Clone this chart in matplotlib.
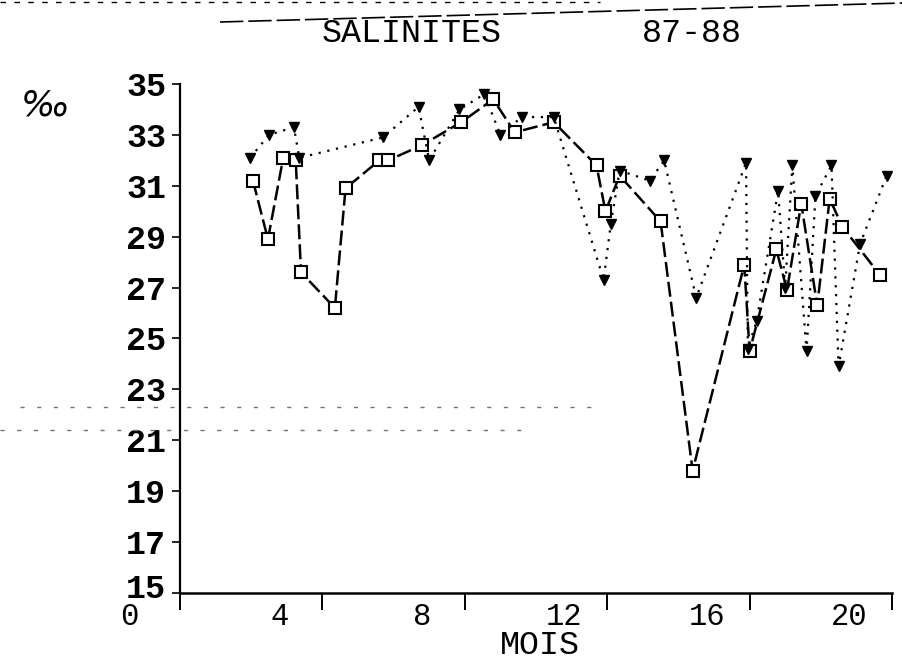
import matplotlib
matplotlib.use("Agg")
import matplotlib.pyplot as plt
from matplotlib.lines import Line2D
from matplotlib.transforms import ScaledTranslation

# salinity series, month index vs salinity (per mille)
mois_a = [2.05, 2.47, 2.9, 3.25, 3.4, 4.35, 4.65, 5.6, 5.85, 6.8, 7.9, 8.8,
          9.4, 10.5, 11.7, 11.95, 12.35, 13.5, 14.4, 15.85, 16.0, 16.75,
          17.05, 17.45, 17.9, 18.25, 18.6, 19.66]
sal_a = [31.2, 28.9, 32.1, 32.0, 27.6, 26.2, 30.9, 32.0, 32.0, 32.6, 33.5, 34.4,
         33.1, 33.5, 31.8, 30.0, 31.4, 29.6, 19.8, 27.9, 24.5, 28.5,
         26.9, 30.3, 26.3, 30.5, 29.4, 27.5]

mois_b = [1.97, 2.5, 3.2, 3.35, 5.7, 6.7, 7.0, 7.85, 8.55, 9.0, 9.6, 10.5,
          11.9, 12.1, 12.35, 13.2, 13.6, 14.5, 15.9, 15.95, 16.2, 16.8, 17.0,
          17.2, 17.6, 17.85, 18.3, 18.5, 19.1, 19.85]
sal_b = [32.1, 33.0, 33.3, 32.1, 32.9, 34.1, 32.0, 34.0, 34.6, 33.0, 33.7, 33.7,
         27.3, 29.5, 31.6, 31.2, 32.0, 26.6, 31.9, 24.6, 25.7, 30.8, 27.0,
         31.8, 24.5, 30.6, 31.8, 23.9, 28.7, 31.4]

x_ticks = [0, 4, 8, 12, 16, 20]
y_ticks = list(range(15, 36, 2))

fig = plt.figure(figsize=(9.03, 6.72), dpi=100)
ax = fig.add_axes([180 / 903, 1 - 593 / 672, 712 / 903, 509 / 672])

ax.plot(mois_a, sal_a, color="black", linestyle=(0, (6, 2)), linewidth=1.8,
        marker="s", markersize=8, markerfacecolor="white",
        markeredgecolor="black", markeredgewidth=1.5)
ax.plot(mois_b, sal_b, color="black", linestyle=(0, (1, 3)), linewidth=1.6,
        marker="v", markersize=7, markerfacecolor="black",
        markeredgecolor="black")

ax.set_xlim(0, 20)
ax.set_ylim(15, 35)
ax.spines["top"].set_visible(False)
ax.spines["right"].set_visible(False)
ax.spines["left"].set_linewidth(1.6)
ax.spines["bottom"].set_linewidth(1.8)

mono = "Liberation Mono"
ax.set_yticks(y_ticks)
ax.set_yticklabels([str(v) for v in y_ticks], fontfamily=mono,
                   fontweight="bold", fontsize=24)
ax.tick_params(axis="y", direction="out", length=6, width=1.2, pad=4)
# bottom label sits a little higher so it clears the month labels
first_y = ax.get_yticklabels()[0]
first_y.set_transform(first_y.get_transform()
                      + ScaledTranslation(0, 0.07, fig.dpi_scale_trans))

ax.set_xticks(x_ticks)
ax.set_xticklabels([str(v) for v in x_ticks], fontfamily=mono, fontsize=22)
ax.tick_params(axis="x", direction="out", length=12, width=1.4, pad=0)
shift = ScaledTranslation(-0.43, 0.08, fig.dpi_scale_trans)
for lbl in ax.get_xticklabels():
    lbl.set_transform(lbl.get_transform() + shift)
first_x = ax.get_xticklabels()[0]
first_x.set_transform(first_x.get_transform()
                      + ScaledTranslation(-0.08, 0, fig.dpi_scale_trans))

fig.text(540 / 903, 1 - 645 / 672, "MOIS", fontfamily=mono, fontsize=24,
         ha="center", va="center")
fig.text(412 / 903, 1 - 33 / 672, "SALINITES", fontfamily=mono, fontsize=24,
         ha="center", va="center")
fig.text(692 / 903, 1 - 33 / 672, "87-88", fontfamily=mono, fontsize=24,
         ha="center", va="center")
fig.text(45 / 903, 1 - 105 / 672, "‰", fontsize=26, style="italic",
         ha="center", va="center")

# ruled lines and faint marks on the sheet
fig.add_artist(Line2D([220 / 903, 903 / 903], [1 - 22 / 672, 1 - 3 / 672],
                      color="black", linewidth=1.2, linestyle=(0, (14, 3))))
fig.add_artist(Line2D([0, 600 / 903], [1 - 2 / 672, 1 - 2 / 672],
                      color="black", linewidth=1.0, linestyle=(0, (4, 6))))
fig.add_artist(Line2D([20 / 903, 600 / 903], [1 - 407 / 672, 1 - 407 / 672],
                      color="0.45", linewidth=1.0, linestyle=(0, (3, 9))))
fig.add_artist(Line2D([0, 530 / 903], [1 - 430 / 672, 1 - 430 / 672],
                      color="0.45", linewidth=1.0, linestyle=(0, (3, 9))))

fig.savefig("out.png", dpi=100)
